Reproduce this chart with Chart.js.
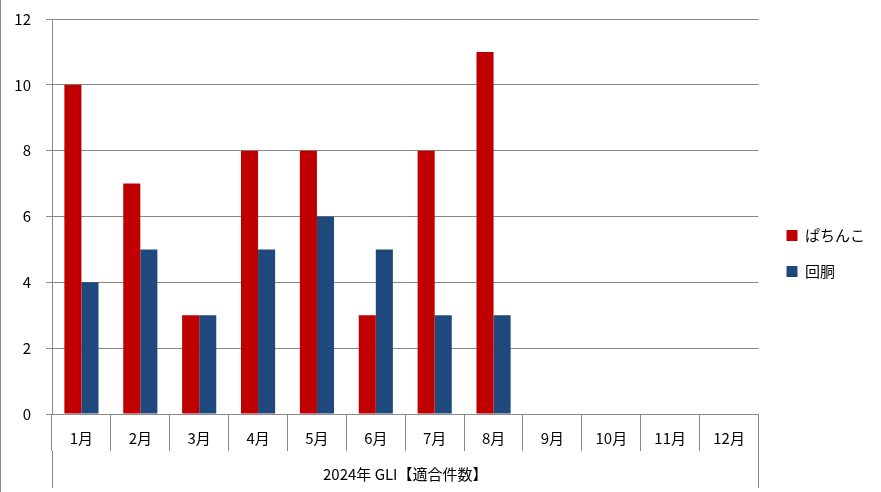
<!DOCTYPE html>
<html>
<head>
<meta charset="utf-8">
<script src="https://cdn.jsdelivr.net/npm/chart.js@4.4.1/dist/chart.umd.min.js"></script>
<style>
  html, body { margin: 0; background: #fff; }
  #wrap { width: 881px; height: 492px; position: relative; }
</style>
</head>
<body>
<div id="wrap"><canvas id="gliChart"></canvas></div>
<script>
const months = ['1月', '2月', '3月', '4月', '5月', '6月', '7月', '8月', '9月', '10月', '11月', '12月'];
const groupLabel = ['2024年 GLI【適合件数】'];
const pachinko = [10, 7, 3, 8, 8, 3, 8, 11, null, null, null, null];
const kaido = [4, 5, 3, 5, 6, 5, 3, 3, null, null, null, null];
const yTicks = [0, 2, 4, 6, 8, 10, 12];

const gray = '#898989';
const fontFamily = '"Noto Sans CJK JP", "Noto Sans", sans-serif';

// thin frame line on the left edge of the picture
const leftEdge = {
    id: 'leftEdge',
    afterDraw(chart) {
        const ctx = chart.ctx;
        ctx.save();
        ctx.strokeStyle = gray;
        ctx.lineWidth = 1;
        ctx.beginPath();
        ctx.moveTo(0.5, 0);
        ctx.lineTo(0.5, chart.height);
        ctx.stroke();
        ctx.restore();
    }
};

const ctx = document.getElementById('gliChart');
new Chart(ctx, {
    type: 'bar',
    data: {
        labels: months,
        datasets: [{
            label: 'ぱちんこ',
            data: pachinko,
            backgroundColor: '#C00000',
            categoryPercentage: 0.58,
            barPercentage: 1.0
        }, {
            label: '回胴',
            data: kaido,
            backgroundColor: '#1F497D',
            categoryPercentage: 0.58,
            barPercentage: 1.0
        }]
    },
    options: {
        responsive: true,
        maintainAspectRatio: false,
        animation: false,
        layout: {
            padding: { top: 19, bottom: 4, left: 0, right: 6 }
        },
        plugins: {
            tooltip: { enabled: false },
            legend: {
                position: 'right',
                labels: {
                    boxWidth: 11,
                    boxHeight: 11,
                    padding: 21,
                    color: '#000',
                    font: { family: fontFamily, size: 15 }
                }
            }
        },
        scales: {
            x: {
                position: 'bottom',
                afterFit: s => { s.height = 37; },
                grid: {
                    offset: true,
                    drawOnChartArea: false,
                    tickLength: 37,
                    color: gray
                },
                border: { display: true, color: gray },
                ticks: {
                    padding: -22,
                    color: '#000',
                    maxRotation: 0,
                    autoSkip: false,
                    font: { family: fontFamily, size: 15 }
                }
            },
            x2: {
                type: 'category',
                position: 'bottom',
                labels: groupLabel,
                offset: true,
                afterFit: s => { s.height = 37; },
                grid: {
                    offset: true,
                    drawOnChartArea: false,
                    tickLength: 37,
                    color: gray
                },
                border: { display: false },
                ticks: {
                    padding: -23,
                    color: '#000',
                    maxRotation: 0,
                    font: { family: fontFamily, size: 15 }
                }
            },
            y: {
                min: 0,
                max: 12,
                afterFit: s => {
                    s.width = 52;
                    s.paddingTop = 0;
                    s.paddingBottom = 0;
                },
                afterBuildTicks: s => { s.ticks = yTicks.map(v => ({ value: v })); },
                grid: { color: gray, tickLength: 6 },
                border: { display: true, color: gray },
                ticks: {
                    padding: 15,
                    color: '#000',
                    font: { family: fontFamily, size: 15 }
                }
            },
            // empty spacer between plot and legend
            gap: {
                type: 'linear',
                position: 'right',
                display: true,
                afterFit: s => { s.width = 7; },
                grid: { display: false },
                border: { display: false },
                ticks: { display: false }
            }
        }
    },
    plugins: [leftEdge]
});
</script>
</body>
</html>
